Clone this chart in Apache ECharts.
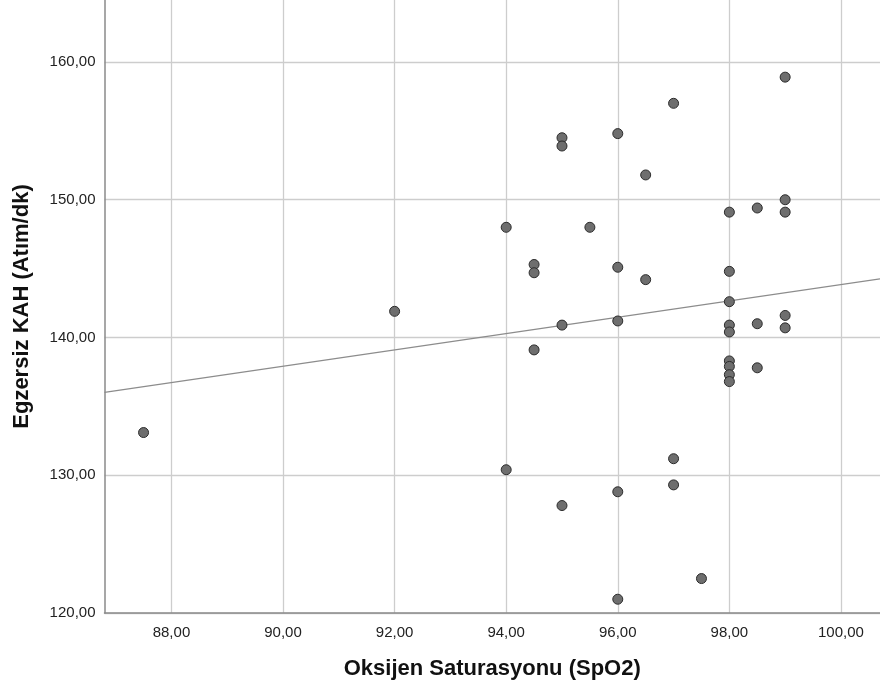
<!DOCTYPE html>
<html>
<head>
<meta charset="utf-8">
<script src="https://cdn.jsdelivr.net/npm/echarts@6/dist/echarts.min.js"></script>
<style>html,body{margin:0;padding:0;background:#fff}#c{width:880px;height:695px}</style>
</head>
<body>
<div id="c"></div>
<script>
const spo2 = [87.5, 92, 94, 94, 94.5, 94.5, 94.5, 95, 95, 95, 95, 95.5,
  96, 96, 96, 96, 96, 96.5, 96.5, 97, 97, 97, 97.5,
  98, 98, 98, 98, 98, 98, 98, 98, 98, 98.5, 98.5, 98.5,
  99, 99, 99, 99, 99];
const kah = [133.1, 141.9, 148.0, 130.4, 145.3, 144.7, 139.1, 154.5, 153.9, 140.9, 127.8, 148.0,
  154.8, 145.1, 141.2, 128.8, 121.0, 151.8, 144.2, 157.0, 131.2, 129.3, 122.5,
  149.1, 144.8, 142.6, 140.9, 140.4, 138.3, 137.9, 137.3, 136.8, 149.4, 141.0, 137.8,
  158.9, 150.0, 149.1, 141.6, 140.7];
const xTicks = [88, 90, 92, 94, 96, 98, 100];
const yTicks = [120, 130, 140, 150, 160];
const xRange = [86.8, 100.7];
const yRange = [120, 164.5];

// least squares fit line
const n = spo2.length;
const mx = spo2.reduce((a, b) => a + b, 0) / n;
const my = kah.reduce((a, b) => a + b, 0) / n;
let sxy = 0, sxx = 0;
for (let i = 0; i < n; i++) { sxy += (spo2[i] - mx) * (kah[i] - my); sxx += (spo2[i] - mx) ** 2; }
const slope = sxy / sxx, icpt = my - slope * mx;
const fit = xRange.map(x => [x, icpt + slope * x]);

const fmt = v => v.toFixed(2).replace('.', ',');
const chart = echarts.init(document.getElementById('c'));
chart.setOption({
  animation: false,
  grid: { left: 104.5, right: 0, top: 0, bottom: 82, containLabel: false },
  xAxis: {
    type: 'value', min: xRange[0], max: xRange[1],
    name: 'Oksijen Saturasyonu (SpO2)', nameLocation: 'middle', nameGap: 45,
    nameTextStyle: { fontFamily: 'Liberation Sans, Arial', fontWeight: 'bold', fontSize: 22, color: '#111' },
    axisLine: { show: true, onZero: false, lineStyle: { color: '#8a8a8a', width: 1.5 } },
    axisTick: { show: false, customValues: xTicks },
    axisLabel: { customValues: xTicks, formatter: fmt, margin: 12, fontFamily: 'Liberation Sans, Arial', fontSize: 15, color: '#222' },
    splitLine: { show: true, lineStyle: { color: '#cdcdcd', width: 1.3 } }
  },
  yAxis: {
    type: 'value', min: yRange[0], max: yRange[1],
    name: 'Egzersiz KAH (Atım/dk)', nameLocation: 'middle', nameGap: 72,
    nameTextStyle: { fontFamily: 'Liberation Sans, Arial', fontWeight: 'bold', fontSize: 22, color: '#111' },
    axisLine: { show: true, onZero: false, lineStyle: { color: '#8a8a8a', width: 1.5 } },
    axisTick: { show: false, customValues: yTicks },
    axisLabel: { customValues: yTicks, formatter: fmt, margin: 9, fontFamily: 'Liberation Sans, Arial', fontSize: 15, color: '#222' },
    splitLine: { show: true, lineStyle: { color: '#cdcdcd', width: 1.3 } }
  },
  series: [
    {
      type: 'line', data: fit, symbol: 'none', silent: true, z: 2,
      lineStyle: { color: '#8c8c8c', width: 1.2 }
    },
    {
      type: 'scatter', data: spo2.map((x, i) => [x, kah[i]]), symbolSize: 10, z: 3,
      itemStyle: { color: '#6e6e6e', borderColor: '#2b2b2b', borderWidth: 1, opacity: 1 }
    }
  ]
});
</script>
</body>
</html>
